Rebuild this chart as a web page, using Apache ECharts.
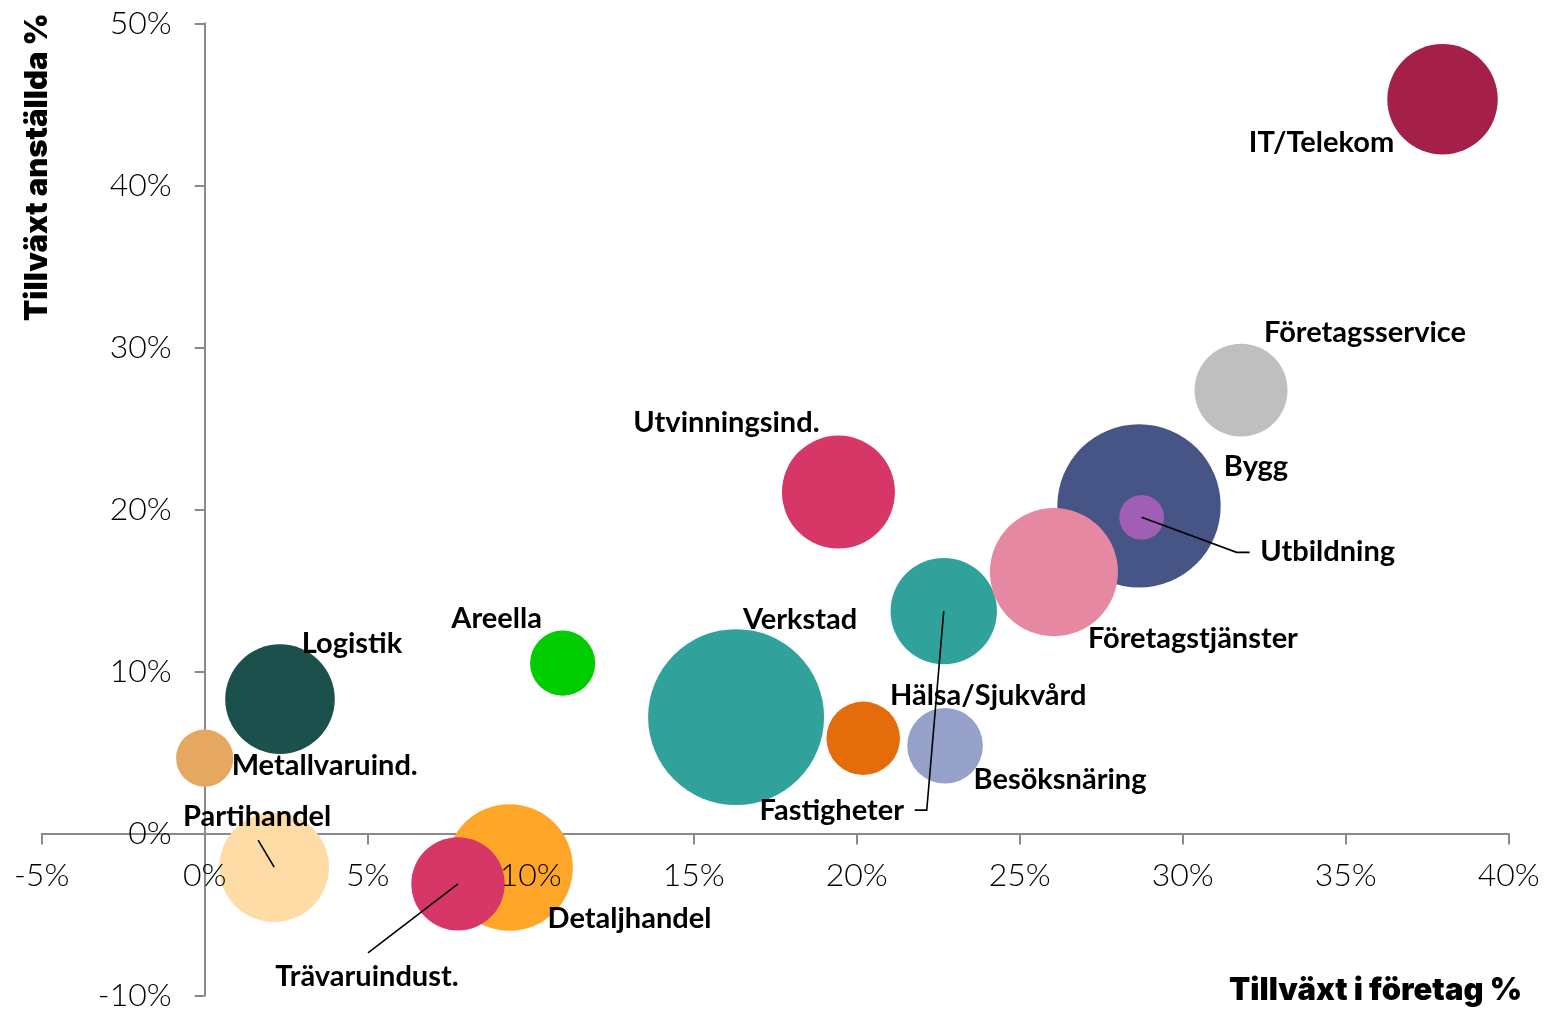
<!DOCTYPE html>
<html><head><meta charset="utf-8">
<script src="https://cdn.jsdelivr.net/npm/echarts@6/dist/echarts.min.js"></script>
<style>html,body{margin:0;padding:0;background:#fff}#c{width:1545px;height:1009px}</style>
</head><body><div id="c"></div>
<script>
// ---- data ----
const sectors = ['IT/Telekom','Företagsservice','Bygg','Utbildning','Fastigheter','Företagstjänster','Utvinningsind.','Verkstad','Hälsa/Sjukvård','Besöksnäring','Areella','Logistik','Metallvaruind.','Partihandel','Detaljhandel','Trävaruindust.'];
const foretagGrowth   = [37.97, 31.79, 28.66, 28.74, 22.67, 26.05, 19.44, 16.30, 20.20, 22.71, 10.98, 2.31, 0.00, 2.13, 9.35, 7.77];
const anstalldaGrowth = [45.31, 27.36, 20.22, 19.51, 13.72, 16.13, 21.07, 7.18, 5.87, 5.41, 10.51, 8.29, 4.65, -2.08, -2.10, -3.11];
const bubbleSize      = [305, 216, 667, 50, 283, 410, 319, 774, 135, 143, 106, 300, 82, 300, 401, 218];
const xTickValues = [-5, 0, 5, 10, 15, 20, 25, 30, 35, 40];
const yTickValues = [-10, 0, 10, 20, 30, 40, 50];

// ---- styles / layout ----
const colors = ['#A52049','#BFBFBF','#465486','#A05FB4','#31A29B','#E688A1','#D73766','#31A29B','#E46C0A','#95A1C9','#00CC00','#1B504C','#E6A760','#FFDBA6','#FFA528','#D73766'];
const labelOffsets = {
  'IT/Telekom':[-121,43], 'Företagsservice':[124,-58], 'Bygg':[117,-39], 'Utbildning':[186,34],
  'Fastigheter':[-112,199], 'Företagstjänster':[139,67], 'Utvinningsind.':[-112,-69], 'Verkstad':[64,-97],
  'Hälsa/Sjukvård':[125,-43], 'Besöksnäring':[115,34], 'Areella':[-66,-45], 'Logistik':[72,-56],
  'Metallvaruind.':[120,8], 'Partihandel':[-17,-51], 'Detaljhandel':[120,51], 'Trävaruindust.':[-91,93]
};
const leaderPaths = {
  'Utbildning':[[0,0],[95,35],[108,35]],
  'Fastigheter':[[0,0],[-17,199],[-29,199]],
  'Partihandel':[[0,0],[-16,-27]],
  'Trävaruindust.':[[0,0],[-90,69]]
};

const chart = echarts.init(document.getElementById('c'), null, {renderer:'canvas'});
const tickFont = {fontFamily:'Lato', fontWeight:300, fontSize:32, color:'#000'};
const axisCol = '#8a8a8a';
const titleFont = {fontFamily:'Inter', fontWeight:900, fontSize:31, fill:'#000'};
const xMin = xTickValues[0], xMax = xTickValues[xTickValues.length-1];
const yMin = yTickValues[0], yMax = yTickValues[yTickValues.length-1];

const scatterData = sectors.map((n,i)=>({
  name:n,
  value:[foretagGrowth[i], anstalldaGrowth[i], bubbleSize[i]],
  itemStyle:{color:colors[i], opacity:1},
  label:{offset:labelOffsets[n]}
}));

chart.setOption({
  animation:false,
  grid:{left:41.7, right:36.3, top:23.3, bottom:13.5, containLabel:false, outerBoundsMode:'none'},
  xAxis:[{
    type:'value', min:xMin, max:xMax, interval:5,
    axisLine:{show:true, onZero:false, lineStyle:{color:axisCol, width:2}},
    axisTick:{show:true, length:11, lineStyle:{color:axisCol, width:2}},
    axisLabel:{show:false}, splitLine:{show:false}, z:0
  },{
    type:'value', min:xMin, max:xMax, interval:5, position:'bottom',
    axisLine:{show:false, onZero:false},
    axisTick:{show:false},
    axisLabel:Object.assign({show:true, margin:26, formatter:'{value}%'}, tickFont),
    splitLine:{show:false}, z:10
  }],
  yAxis:{
    type:'value', min:yMin, max:yMax, interval:10,
    axisLine:{show:true, onZero:false, lineStyle:{color:axisCol, width:2}},
    axisTick:{show:true, length:10, lineStyle:{color:axisCol, width:2}},
    axisLabel:Object.assign({margin:33, formatter:'{value}%'}, tickFont),
    splitLine:{show:false}
  },
  series:[{
    type:'scatter', xAxisIndex:0, clip:false,
    data:scatterData,
    symbol:'circle',
    symbolSize:(v)=>2*Math.sqrt(v[2]*10),
    label:{show:true, position:'inside', formatter:'{b}', fontFamily:'Lato', fontWeight:'bold', fontSize:29, color:'#000'},
    emphasis:{disabled:true},
    z:2
  },{
    type:'custom', xAxisIndex:0, clip:false, z:5, silent:true,
    data:Object.keys(leaderPaths).map(n=>{const i=sectors.indexOf(n); return [foretagGrowth[i], anstalldaGrowth[i], i];}),
    renderItem:(params, api)=>{
      const c = api.coord([api.value(0), api.value(1)]);
      const name = sectors[api.value(2)];
      const pts = leaderPaths[name].map(p=>[c[0]+p[0], c[1]+p[1]]);
      return {type:'polyline', shape:{points:pts}, style:{stroke:'#000', lineWidth:1.6, fill:null}};
    }
  }],
  graphic:[
    {type:'text', x:38, y:167, rotation:Math.PI/2, style:Object.assign({text:'Tillväxt anställda %', align:'center', verticalAlign:'middle'}, titleFont)},
    {type:'text', x:1522, y:991, style:Object.assign({text:'Tillväxt i företag %', align:'right', verticalAlign:'middle'}, titleFont)}
  ]
});

// move the axes so they cross at the origin (0,0)
const x0 = chart.convertToPixel({xAxisIndex:0}, 0);
const xLeft = chart.convertToPixel({xAxisIndex:0}, xMin);
const y0 = chart.convertToPixel({yAxisIndex:0}, 0);
const yBottom = chart.convertToPixel({yAxisIndex:0}, yMin);
chart.setOption({
  xAxis:[{offset: y0 - yBottom}, {offset: y0 - yBottom}],
  yAxis:{offset: xLeft - x0}
});
</script>
</body></html>
